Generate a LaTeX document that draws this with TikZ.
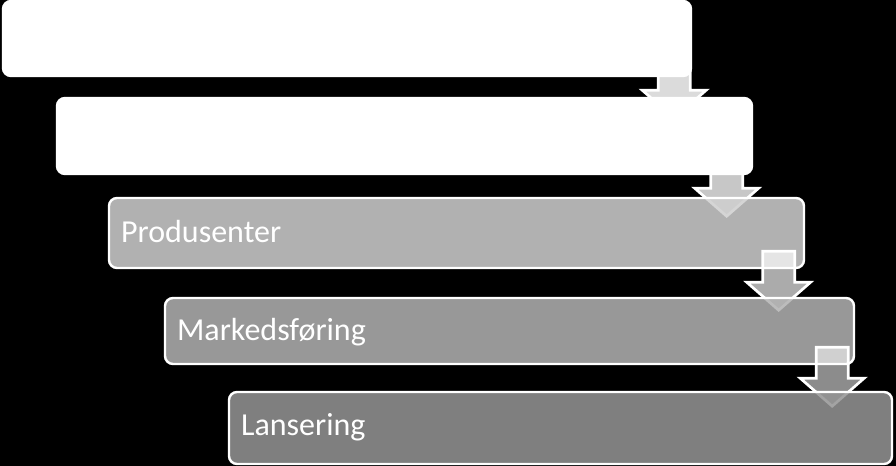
\documentclass[tikz,border=0pt]{standalone}
\usepackage{fontspec}
\setmainfont{Carlito}
\usepackage{tikz}
\usetikzlibrary{positioning,calc}

\begin{document}
\begin{tikzpicture}[x=0.75pt,y=-0.75pt]

\tikzstyle{stepbox}=[draw=white,line width=1.8pt,rounded corners=6pt,inner sep=0pt]
\tikzstyle{steparrow}=[draw=white,line width=2pt]
\tikzstyle{steptext}=[text=white,inner sep=0pt,anchor=base west,font=\fontsize{24}{28}\selectfont]

   %background
   \fill[black] (0,0) rectangle (896,466);
   \useasboundingbox (0,0) rectangle (896,466);

   \node (b1) at (347,38.5) [stepbox,fill=white,minimum width=516pt,minimum height=56.25pt]{};
   \draw [steparrow,preaction={fill=white,fill opacity=0.86}] ([xshift=-13.5pt]b1.south east) ++(-16,-18) -- ++(32,0) -- ++(0,31) -- ++(16,0) -- ++(-32,28) -- ++(-32,-28) -- ++(16,0) -- cycle;

   \node (b2) at (404.5,136) [stepbox,fill=white,minimum width=521.25pt,minimum height=57pt]{};
   \draw [steparrow,preaction={fill=white,fill opacity=0.78}] ([xshift=-19.9pt]b2.south east) ++(-16,-18) -- ++(32,0) -- ++(0,31) -- ++(16,0) -- ++(-32,28) -- ++(-32,-28) -- ++(16,0) -- cycle;

   \node (b3) at (456.5,233) [stepbox,fill=white!81!black,fill opacity=0.86,minimum width=521.25pt,minimum height=52.5pt]{};
   \node (prod_label) [steptext] at ([xshift=9.8pt,yshift=-7.3pt]b3.west) {Produsenter};
   \draw [steparrow,preaction={fill=white,fill opacity=0.67}] ([xshift=-19.9pt]b3.south east) ++(-16,-18) -- ++(32,0) -- ++(0,31) -- ++(16,0) -- ++(-32,28) -- ++(-32,-28) -- ++(16,0) -- cycle;

   \node (b4) at (509.5,331) [stepbox,fill=white!70!black,fill opacity=0.86,minimum width=516.75pt,minimum height=49.5pt]{};
   \node (mark_label) [steptext] at ([xshift=9.8pt,yshift=-7.5pt]b4.west) {Markedsføring};
   \draw [steparrow,preaction={fill=white,fill opacity=0.55}] ([xshift=-17.25pt]b4.south east) ++(-16,-18) -- ++(32,0) -- ++(0,31) -- ++(16,0) -- ++(-32,28) -- ++(-32,-28) -- ++(16,0) -- cycle;

   \node (b5) at (560.5,428) [stepbox,fill=white!58!black,fill opacity=0.86,minimum width=497.25pt,minimum height=54pt]{};
   \node (lans_label) [steptext] at ([xshift=9.8pt,yshift=-5.6pt]b5.west) {Lansering};

\end{tikzpicture}
\end{document}
